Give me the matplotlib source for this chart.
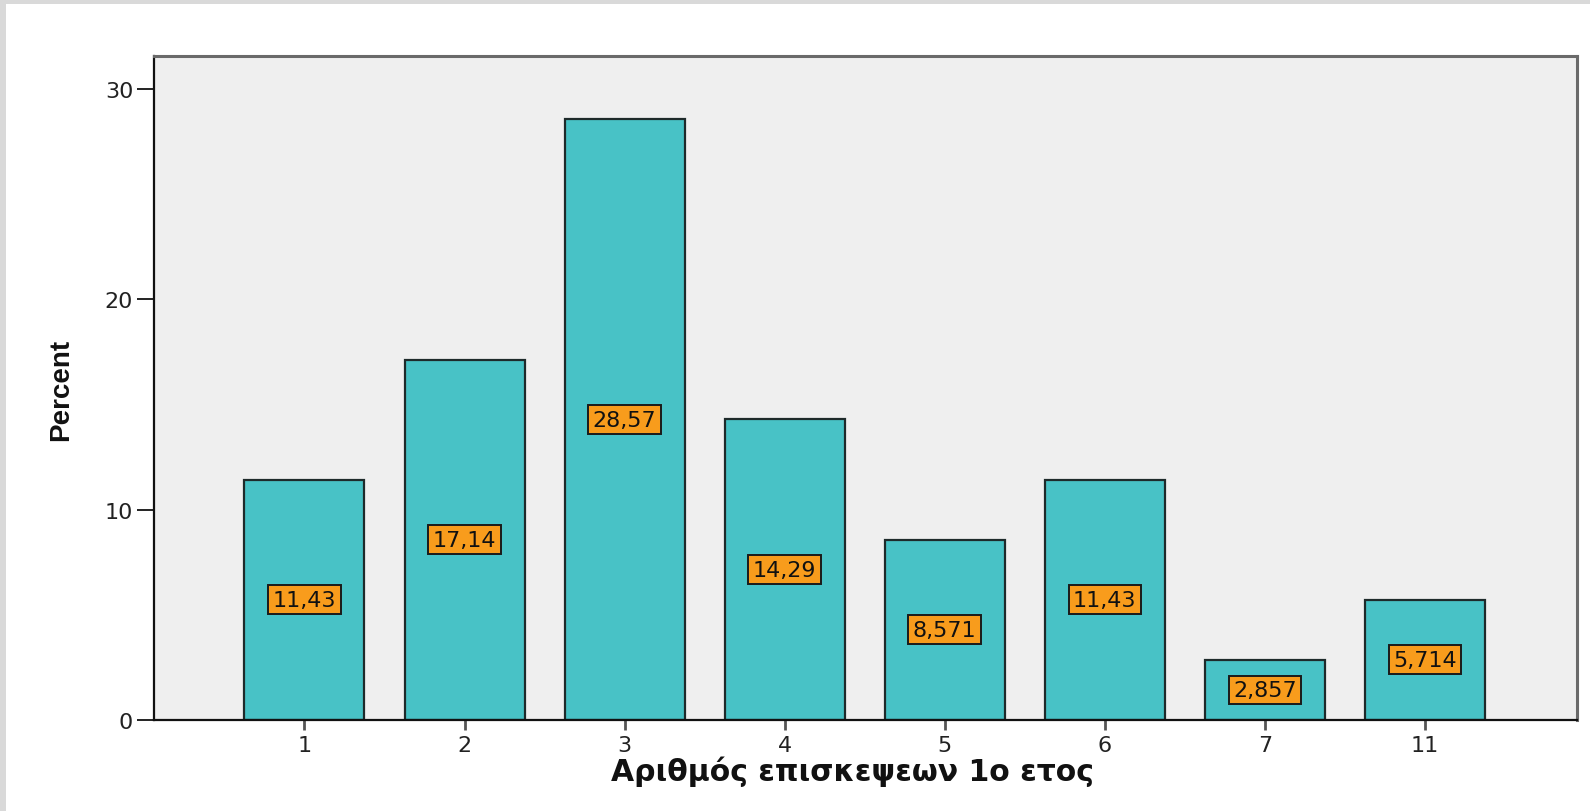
import matplotlib
matplotlib.use("Agg")
import matplotlib.pyplot as plt
from matplotlib.patches import Rectangle

categories = ["1", "2", "3", "4", "5", "6", "7", "11"]
percent = [11.43, 17.14, 28.57, 14.29, 8.571, 11.43, 2.857, 5.714]
value_labels = ["11,43", "17,14", "28,57", "14,29", "8,571", "11,43", "2,857", "5,714"]
y_ticks = [0, 10, 20, 30]
x_title = "Αριθμός επισκεψεων 1ο ετος"
y_title = "Percent"

fig = plt.figure(figsize=(15.9, 8.12), dpi=100, facecolor="white")
ax = fig.add_axes([154/1590, 1 - 721/812, (1577-154)/1590, (721-57)/812])
ax.set_facecolor("#EFEFEF")

# decorative grey border at left/top
fig.add_artist(Rectangle((0, 0), 6/1590, 1, transform=fig.transFigure,
                         facecolor="#D9D9D9", edgecolor="none", zorder=-5))
fig.add_artist(Rectangle((0, 1 - 5/812), 1, 5/812, transform=fig.transFigure,
                         facecolor="#D9D9D9", edgecolor="none", zorder=-5))

x = list(range(len(categories)))
ax.bar(x, percent, width=0.75, color="#48C2C6", edgecolor="#1E2A2A",
       linewidth=1.6, zorder=2)

for xi, v, lab in zip(x, percent, value_labels):
    ax.text(xi, v / 2, lab, ha="center", va="center", fontsize=16,
            color="#111111", zorder=4,
            bbox=dict(boxstyle="square,pad=0.2", facecolor="#F89C1C",
                      edgecolor="#1a1a1a", linewidth=1.4))

ax.set_xlim(-0.94, 7.95)
ax.set_ylim(0, 31.57)
ax.set_xticks(x)
ax.set_xticklabels(categories)
ax.set_yticks(y_ticks)

ax.tick_params(axis="y", length=12, width=1.4, color="#222222", pad=3,
               labelsize=16, labelcolor="#222222")
ax.tick_params(axis="x", length=7, width=2.0, color="#555555", pad=4,
               labelsize=16, labelcolor="#222222")

for side in ["left", "bottom"]:
    ax.spines[side].set_color("#111111")
    ax.spines[side].set_linewidth(1.6)
for side in ["top", "right"]:
    ax.spines[side].set_color("#6A6A6A")
    ax.spines[side].set_linewidth(2.2)

ax.set_xlabel(x_title, fontsize=21.5, fontweight="bold", color="#111111")
ax.xaxis.set_label_coords((852 - 154) / 1423, -(772 - 721) / 664)
ax.set_ylabel(y_title, fontsize=20, fontweight="bold", color="#111111",
              family=["Liberation Sans", "DejaVu Sans"])
ax.yaxis.set_label_coords(-(154 - 61) / 1423, (721 - 390) / 664)
ax.xaxis.label.set_va("center")
ax.yaxis.label.set_va("center")

fig.savefig("out.png", dpi=100, facecolor="white")
